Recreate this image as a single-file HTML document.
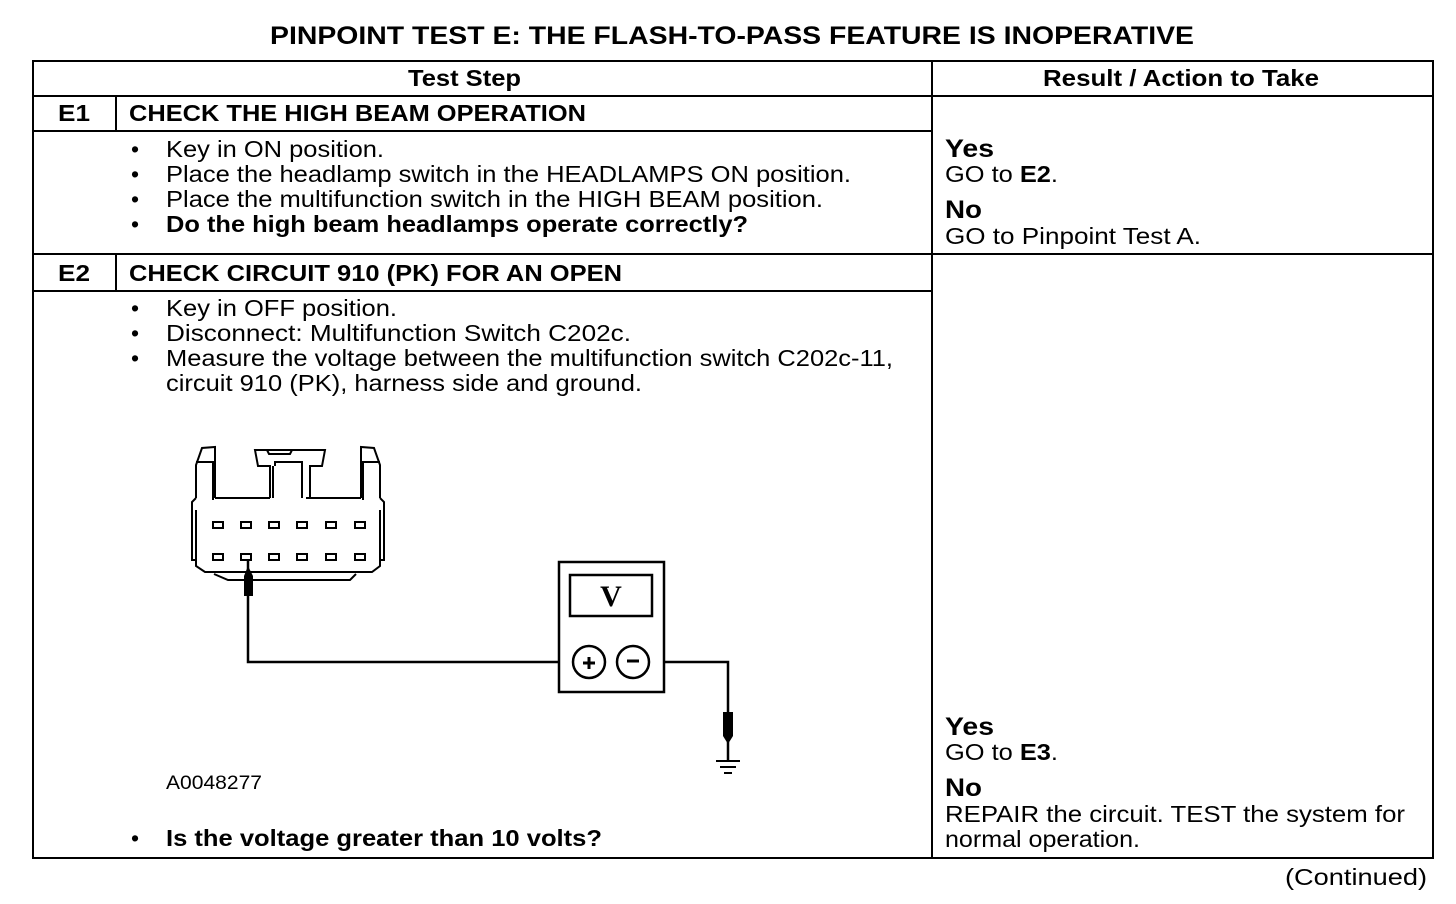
<!DOCTYPE html>
<html><head><meta charset="utf-8"><style>
html,body{margin:0;padding:0;background:#fff;}
svg{display:block;}
text{font-family:"Liberation Sans",Arial,sans-serif;fill:#000;}
.b{font-weight:bold;}
</style></head><body>
<svg width="1456" height="904" viewBox="0 0 1456 904" xmlns="http://www.w3.org/2000/svg">
<g stroke="#000" stroke-width="2" fill="none">
<rect x="33" y="61" width="1400" height="797"/>
<line x1="932" y1="61" x2="932" y2="858"/>
<line x1="33" y1="96" x2="1433" y2="96"/>
<line x1="33" y1="131" x2="932" y2="131"/>
<line x1="33" y1="254" x2="1433" y2="254"/>
<line x1="33" y1="291" x2="932" y2="291"/>
<line x1="116" y1="96" x2="116" y2="131"/>
<line x1="116" y1="254" x2="116" y2="291"/>
</g>
<g font-size="23">
<text x="270" y="44" class="b" font-size="25" textLength="924" lengthAdjust="spacingAndGlyphs">PINPOINT TEST E: THE FLASH-TO-PASS FEATURE IS INOPERATIVE</text>
<text x="408" y="86" class="b" textLength="113" lengthAdjust="spacingAndGlyphs">Test Step</text>
<text x="1043" y="86" class="b" textLength="276" lengthAdjust="spacingAndGlyphs">Result / Action to Take</text>
<text x="58" y="121" class="b" textLength="32" lengthAdjust="spacingAndGlyphs">E1</text>
<text x="129" y="121" class="b" textLength="457" lengthAdjust="spacingAndGlyphs">CHECK THE HIGH BEAM OPERATION</text>
<text x="131" y="157">•</text><text x="166" y="157" textLength="218" lengthAdjust="spacingAndGlyphs">Key in ON position.</text>
<text x="131" y="182">•</text><text x="166" y="182" textLength="685" lengthAdjust="spacingAndGlyphs">Place the headlamp switch in the HEADLAMPS ON position.</text>
<text x="131" y="207">•</text><text x="166" y="207" textLength="657" lengthAdjust="spacingAndGlyphs">Place the multifunction switch in the HIGH BEAM position.</text>
<text x="131" y="232">•</text><text x="166" y="232" class="b" textLength="582" lengthAdjust="spacingAndGlyphs">Do the high beam headlamps operate correctly?</text>
<text x="945" y="157" class="b" font-size="25" textLength="49" lengthAdjust="spacingAndGlyphs">Yes</text>
<text x="945" y="182" textLength="113" lengthAdjust="spacingAndGlyphs">GO to <tspan class="b">E2</tspan>.</text>
<text x="945" y="218" class="b" font-size="25" textLength="37" lengthAdjust="spacingAndGlyphs">No</text>
<text x="945" y="244" textLength="256" lengthAdjust="spacingAndGlyphs">GO to Pinpoint Test A.</text>
<text x="58" y="281" class="b" textLength="32" lengthAdjust="spacingAndGlyphs">E2</text>
<text x="129" y="281" class="b" textLength="493" lengthAdjust="spacingAndGlyphs">CHECK CIRCUIT 910 (PK) FOR AN OPEN</text>
<text x="131" y="316">•</text><text x="166" y="316" textLength="231" lengthAdjust="spacingAndGlyphs">Key in OFF position.</text>
<text x="131" y="341">•</text><text x="166" y="341" textLength="465" lengthAdjust="spacingAndGlyphs">Disconnect: Multifunction Switch C202c.</text>
<text x="131" y="366">•</text><text x="166" y="366" textLength="727" lengthAdjust="spacingAndGlyphs">Measure the voltage between the multifunction switch C202c-11,</text>
<text x="166" y="391" textLength="476" lengthAdjust="spacingAndGlyphs">circuit 910 (PK), harness side and ground.</text>
<text x="166" y="789" font-size="19" textLength="96" lengthAdjust="spacingAndGlyphs">A0048277</text>
<text x="131" y="846">•</text><text x="166" y="846" class="b" textLength="436" lengthAdjust="spacingAndGlyphs">Is the voltage greater than 10 volts?</text>
<text x="945" y="735" class="b" font-size="25" textLength="49" lengthAdjust="spacingAndGlyphs">Yes</text>
<text x="945" y="760" textLength="113" lengthAdjust="spacingAndGlyphs">GO to <tspan class="b">E3</tspan>.</text>
<text x="945" y="796" class="b" font-size="25" textLength="37" lengthAdjust="spacingAndGlyphs">No</text>
<text x="945" y="822" textLength="460" lengthAdjust="spacingAndGlyphs">REPAIR the circuit. TEST the system for</text>
<text x="945" y="847" textLength="195" lengthAdjust="spacingAndGlyphs">normal operation.</text>
<text x="1285" y="885" textLength="142" lengthAdjust="spacingAndGlyphs">(Continued)</text>
</g>
<!-- connector -->
<g stroke="#000" stroke-width="2" fill="none">
<path d="M196,498 L196,465 L202,448 L215,447 L215,498"/>
<path d="M380,498 L380,465 L374,448 L361,447 L361,498"/>
<path d="M215,498 L270,498 M306,498 L361,498"/>
<path d="M196,462 L213,462 L213,500 M380,462 L363,462 L363,500"/>
<path d="M270,498 L270,466 L258,466 L255,450 L325,450 L322,466 L310,466 L310,498"/>
<path d="M273,466 L273,498 M302,466 L302,498 M275,466 L275,462 L302,462 L302,466"/>
<path d="M267,450 L269,454 L290,454 L292,450"/>
<path d="M196,498 L192,502 L192,560 L196,560 M380,498 L384,502 L384,560 L380,560"/>
<path d="M196,510 L196,566 L205,572 L372,572 L380,566 L380,510"/>
<path d="M214,574 L228,580 L350,580 L356,574"/>
</g>
<g stroke="#000" stroke-width="2" fill="#fff">
<rect x="213" y="522" width="10" height="6"/><rect x="241" y="522" width="10" height="6"/><rect x="269" y="522" width="10" height="6"/><rect x="297" y="522" width="10" height="6"/><rect x="326" y="522" width="10" height="6"/><rect x="355" y="522" width="10" height="6"/>
<rect x="213" y="554" width="10" height="6"/><rect x="241" y="554" width="10" height="6"/><rect x="269" y="554" width="10" height="6"/><rect x="297" y="554" width="10" height="6"/><rect x="326" y="554" width="10" height="6"/><rect x="355" y="554" width="10" height="6"/>
</g>
<!-- probe and wires -->
<g stroke="#000" stroke-width="2.5" fill="none">
<line x1="248" y1="560" x2="248" y2="600"/>
<polyline points="248,600 248,662 573,662"/>
<polyline points="649,662 728,662 728,712"/>
<line x1="728" y1="742" x2="728" y2="760"/>
</g>
<path d="M244,596 L244,576 L248,566 L253,576 L253,596 Z" fill="#000"/>
<path d="M723,712 L733,712 L733,736 L728,744 L723,736 Z" fill="#000"/>
<g stroke="#000" stroke-width="2">
<line x1="716" y1="761" x2="740" y2="761"/>
<line x1="720" y1="767" x2="736" y2="767"/>
<line x1="724" y1="773" x2="732" y2="773"/>
</g>
<!-- meter -->
<g stroke="#000" stroke-width="2.5" fill="#fff">
<rect x="559" y="562" width="105" height="130"/>
<rect x="570" y="575" width="82" height="41"/>
<circle cx="589" cy="662" r="16"/>
<circle cx="633" cy="662" r="16"/>
</g>
<text x="611" y="606" font-size="30" font-weight="bold" text-anchor="middle" style="font-family:'Liberation Serif',serif">V</text>
<g stroke="#000" stroke-width="3">
<line x1="583" y1="663" x2="595" y2="663"/><line x1="589" y1="657" x2="589" y2="669"/>
<line x1="627" y1="661" x2="639" y2="661"/>
</g>
</svg>
</body></html>
